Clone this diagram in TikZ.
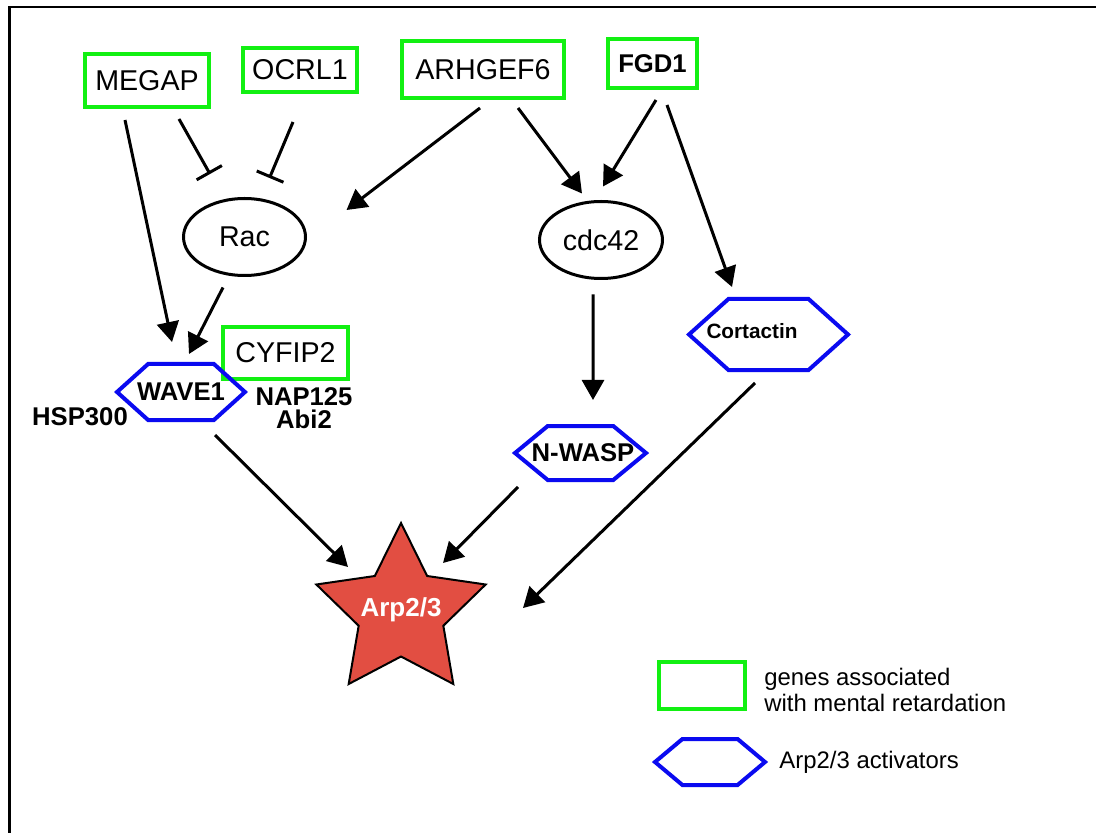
\documentclass[tikz,border=0pt]{standalone}
\usepackage{fontspec}
\setmainfont{Liberation Sans}
\usetikzlibrary{arrows.meta,positioning,calc,shapes.geometric,shapes.symbols}
\definecolor{mrGreen}{HTML}{12F012}
\definecolor{actBlue}{HTML}{0A0AF0}
\definecolor{arpRed}{HTML}{E24E42}

\begin{document}
\begin{tikzpicture}[
  x=0.2mm, y=-0.2mm,
  txt/.style={font=\fontsize{16.3}{19}\selectfont},
  gene/.style={draw=mrGreen,line width=0.8mm,inner sep=0pt,txt},
  gtp/.style={draw,ellipse,line width=0.6mm,inner sep=0pt,txt},
  act/.style={draw=actBlue,line width=0.8mm,signal,signal to=east and west,signal pointer angle=84,inner sep=0pt},
  lbl/.style={font=\bfseries\fontsize{14.6}{13.2}\selectfont,inner sep=0pt},
  key/.style={font=\fontsize{13.6}{14.8}\selectfont,inner sep=0pt,align=left},
  arr/.style={-{Triangle[length=4mm,width=4.4mm]},line width=0.6mm},
  inh/.style={-{Bar[width=5.8mm]},line width=0.6mm}
]
  \useasboundingbox (0,0) rectangle (1096,833);
  \draw[line width=0.5mm] (9.5,7) rectangle (1120,860);

  % genes linked to mental retardation
  \node[gene,minimum width=24.8mm,minimum height=10.6mm] (megap) at (147,80.5) {MEGAP};
  \node[gene,minimum width=22.8mm,minimum height=8.8mm] (ocrl) at (300,70) {OCRL1};
  \node[gene,minimum width=32.4mm,minimum height=11.4mm] (arhgef) at (483,69.5) {ARHGEF6};
  \node[gene,minimum width=17.8mm,minimum height=9.8mm,font=\bfseries\fontsize{14.6}{17}\selectfont] (fgd) at (652.5,63.5) {FGD1};
  \node[gene,minimum width=25mm,minimum height=10.4mm] (cyfip) at (285.5,353) {CYFIP2};

  % small GTPases
  \node[gtp,minimum width=24.4mm,minimum height=15.4mm] (rac) at (244.5,237) {Rac};
  \node[gtp,minimum width=24.6mm,minimum height=15.4mm] (cdc) at (601,240) {cdc42};

  % activators
  \node[act,minimum width=25.6mm,minimum height=11.2mm,label={[lbl]center:WAVE1}] (wave) at (181,392) {};
  \node[act,minimum width=26.2mm,minimum height=10.8mm,signal pointer angle=79,label={[lbl,xshift=0.5mm]center:N-WASP}] (nwasp) at (580.5,453) {};
  \node[act,minimum width=31.8mm,minimum height=14.2mm,label={[lbl,font=\bfseries\fontsize{11.8}{13}\selectfont,xshift=-3.3mm,yshift=0.7mm]center:Cortactin}] (cort) at (768.5,334.5) {};
  \node[lbl] (hsp) at (80,417) {HSP300};
  \node[lbl,align=center] (nap) at (304,408.5) {NAP125\\Abi2};

  \node[star,star points=5,star point ratio=2,minimum size=35.6mm,inner sep=0pt,draw,fill=arpRed,line width=0.4mm,
    label={[text=white,font=\bfseries\fontsize{14.8}{17}\selectfont,yshift=0.4mm]center:Arp2/3}] (arp) at (401,612) {};

  % legend
  \node[gene,minimum width=17.2mm,minimum height=9.4mm] (keygene) at (702,685.5) {};
  \node[key,right=3.4mm of keygene,yshift=-0.9mm] (keygenetxt) {genes associated\\with mental retardation};
  \node[act,minimum width=22mm,minimum height=9.2mm,signal pointer angle=80] (keyact) at (710,762) {};
  \node[key,right=2.2mm of keyact] (keyacttxt) {Arp2/3 activators};

  % connectors
  \draw[arr] ([shift={(-22,11)}]megap.south) -- ([shift={(-9,-20)}]wave.north);
  \draw[inh] ([shift={(32,10)}]megap.south) -- ([shift={(-34.5,-23)}]rac.north);
  \draw[inh] ([shift={(-7,28)}]ocrl.south) -- ([shift={(25,-19)}]rac.north);
  \draw[arr] ([shift={(-3,8)}]arhgef.south) -- ([shift={(39.5,-27)}]rac.east);
  \draw[arr] ([shift={(35,8)}]arhgef.south) -- ([shift={(-19,-6.5)}]cdc.north);
  \draw[arr] ([shift={(3.5,10)}]fgd.south) -- ([shift={(2,-13.5)}]cdc.north);
  \draw[arr] ([shift={(14.5,15)}]fgd.south) -- ([shift={(-36.5,-10)}]cort.north);
  \draw[arr] ([shift={(-21.5,10.5)}]rac.south) -- ([shift={(8,-8)}]wave.north);
  \draw[arr] ([shift={(-8,14.5)}]cdc.south) -- ([shift={(12.5,-24)}]nwasp.north);
  \draw[arr] ([shift={(34,13)}]wave.south) -- ([shift={(-53,-45)}]arp.center);
  \draw[arr] ([shift={(-62.5,5)}]nwasp.south) -- ([shift={(42,-49)}]arp.center);
  \draw[arr] ([shift={(-13.5,11)}]cort.south) -- ([shift={(122,-4)}]arp.center);
\end{tikzpicture}
\end{document}
